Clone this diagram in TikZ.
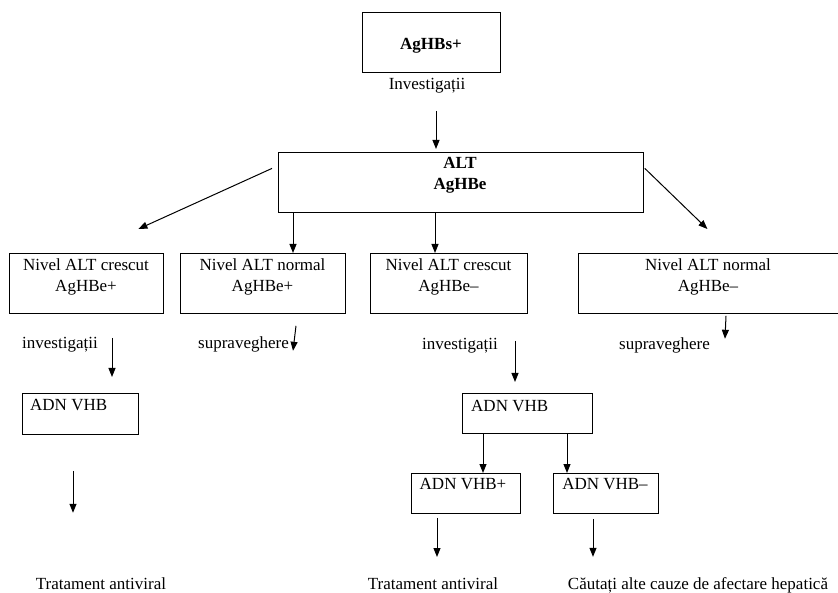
\documentclass[tikz,border=0pt]{standalone}
\usepackage{fontspec}
\setmainfont{Liberation Serif}
\usetikzlibrary{arrows.meta,calc}
\tikzset{
  box/.style={draw, line width=0.8pt, inner sep=0pt, anchor=north west},
  txt/.style={inner sep=0pt, anchor=base, align=center,
    font=\fontsize{17}{21}\selectfont},
  ltxt/.style={txt, anchor=base west},
  arr/.style={line width=1pt, -{Triangle[length=9pt,width=7pt]}},
}
\newcommand{\boxat}[5]{% name, x1, y1, x2, y2
  \node[box, minimum width={(#4-#2)*1pt}, minimum height={(#5-#3)*1pt}] (#1) at (#2,#3) {};}
\begin{document}
\begin{tikzpicture}[x=1pt,y=-1pt]
\useasboundingbox (0,0) rectangle (838,593);

% top: starting condition and main test
\boxat{hbs}{362}{12}{500}{72}
\node[txt, font=\fontsize{17}{21}\selectfont\bfseries] (hbst) at (431,50) {AgHBs+};
\node[txt] (inv0) at (427,90) {Investigații};
\boxat{alt}{278}{152}{643}{212}
\node[txt, font=\fontsize{17}{21}\selectfont\bfseries] (altt) at (460,190) {ALT\\AgHBe};

% four outcomes (multi-line texts sit on the baseline of their last line)
\boxat{b1}{9}{253}{163}{313}
\boxat{b2}{180}{253}{345}{313}
\boxat{b3}{370}{253}{527}{313}
\boxat{b4}{578}{253}{841}{313}
\node[txt] (b1t) at (86,292) {Nivel ALT crescut\\AgHBe+};
\node[txt] (b2t) at (262.5,292) {Nivel ALT normal\\AgHBe+};
\node[txt] (b3t) at (448.5,292) {Nivel ALT crescut\\AgHBe–};
\node[txt] (b4t) at (708,292) {Nivel ALT normal\\AgHBe–};

% follow-up labels
\node[ltxt] (inv1) at (22,349) {investigații};
\node[ltxt] (sup1) at (198,349) {supraveghere};
\node[ltxt] (inv2) at (422,350) {investigații};
\node[ltxt] (sup2) at (619,350) {supraveghere};

% viral load tests
\boxat{d1}{22}{393}{138}{434}
\node[ltxt] (d1t) at (30,410) {ADN VHB};
\boxat{d2}{462}{393}{592}{433}
\node[ltxt] (d2t) at (471,411) {ADN VHB};
\boxat{dp}{411}{473}{520}{513}
\node[txt] (dpt) at (463,489) {ADN VHB+};
\boxat{dm}{553}{473}{658}{513}
\node[txt] (dmt) at (605,489) {ADN VHB–};

% outcomes at the bottom
\node[txt] (tr1) at (101,589) {Tratament antiviral};
\node[txt] (tr2) at (433,589) {Tratament antiviral};
\node[txt] (alte) at (698,589) {Căutați alte cauze de afectare hepatică};

% connectors
\draw[arr] ($(inv0.south -| 436,0)+(0,17)$) -- ($(alt.north -| 436,0)+(0,-3)$);
\draw[arr] ($(alt.west)+(-6,-14)$) -- ($(b1.north)+(52,-24)$);
\draw[arr] ($(alt.east)+(1,-14)$) -- ($(b4.north)+(-2.5,-24)$);
\draw[arr] (alt.south -| 293,0) -- (b2.north -| 293,0);
\draw[arr] (alt.south -| 435,0) -- (b3.north -| 435,0);

\draw[arr] ($(b1.south -| 112,0)+(0,24)$) -- ($(d1.north -| 112,0)+(0,-16)$);
\draw[arr] ($(b2.south -| 296,0)+(0,12)$) -- ($(b2.south -| 293,0)+(0,37)$);
\draw[arr] ($(b3.south -| 515,0)+(0,27)$) -- ($(d2.north -| 515,0)+(0,-11)$);
\draw[arr] ($(b4.south -| 726,0)+(0,2)$) -- ($(b4.south -| 725,0)+(0,25)$);

\draw[arr] ($(d1.south -| 73,0)+(0,36)$) -- ($(d1.south -| 73,0)+(0,78)$);
\draw[arr] (d2.south -| 483,0) -- (dp.north -| 483,0);
\draw[arr] (d2.south -| 567,0) -- (dm.north -| 567,0);
\draw[arr] ($(dp.south -| 437,0)+(0,4)$) -- ($(tr2.north -| 437,0)+(0,-20)$);
\draw[arr] ($(dm.south -| 593,0)+(0,5)$) -- ($(alte.north -| 593,0)+(0,-20)$);
\end{tikzpicture}
\end{document}
